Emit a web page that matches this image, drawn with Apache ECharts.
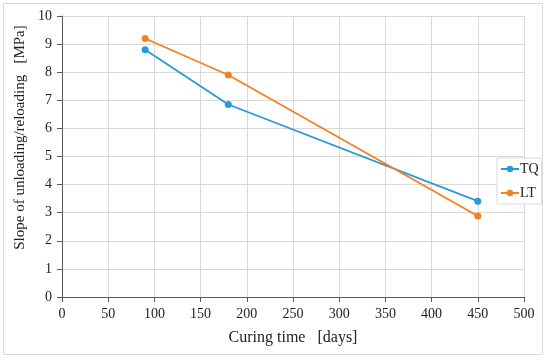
<!DOCTYPE html>
<html><head><meta charset="utf-8">
<script src="https://cdn.jsdelivr.net/npm/echarts@6/dist/echarts.min.js"></script>
<style>html,body{margin:0;padding:0;background:#fff}#c{width:550px;height:362px}</style>
</head><body><div id="c"></div>
<script>
const days = [90, 180, 450];
const tqValues = [8.8, 6.85, 3.41];
const ltValues = [9.2, 7.9, 2.88];
const seriesNames = ['TQ', 'LT'];
const xTitle = 'Curing time   [days]';
const yTitle = 'Slope of unloading/reloading   [MPa]';

const font = 'Liberation Serif, DejaVu Serif, serif';
const chart = echarts.init(document.getElementById('c'), null, {renderer: 'canvas'});
const mk = (vals) => days.map((d, i) => [d, vals[i]]);
chart.setOption({
  animation: false,
  textStyle: {fontFamily: font},
  graphic: [{type: 'rect', shape: {x: 3.5, y: 3.5, width: 539, height: 351}, style: {fill: 'none', stroke: '#d9d9d9', lineWidth: 1}, z: -1}],
  grid: {left: 62, right: 26, top: 16, bottom: 65},
  legend: {
    orient: 'vertical', left: 497, top: 158, itemWidth: 18, itemHeight: 8, itemGap: 10,
    backgroundColor: '#fff', borderColor: '#d9d9d9', borderWidth: 1, padding: [4, 3, 4, 3],
    textStyle: {fontFamily: font, fontSize: 14, color: '#222', padding: [0, 0, 0, -4]},
    data: seriesNames
  },
  xAxis: {
    type: 'value', min: 0, max: 500, interval: 50,
    name: xTitle, nameLocation: 'middle', nameGap: 33,
    nameTextStyle: {fontFamily: font, fontSize: 16, color: '#222'},
    axisLine: {show: true, lineStyle: {color: '#595959', width: 1}},
    axisTick: {show: true, length: 5, lineStyle: {color: '#595959'}},
    axisLabel: {fontFamily: font, fontSize: 14, color: '#222', margin: 10},
    splitLine: {show: true, lineStyle: {color: '#d9d9d9'}}
  },
  yAxis: {
    type: 'value', min: 0, max: 10, interval: 1,
    name: yTitle, nameLocation: 'middle', nameGap: 33,
    nameTextStyle: {fontFamily: font, fontSize: 15, color: '#222', padding: [0, 0, 0, 38]},
    axisLine: {show: true, lineStyle: {color: '#595959', width: 1}},
    axisTick: {show: true, length: 5, lineStyle: {color: '#595959'}},
    axisLabel: {fontFamily: font, fontSize: 14, color: '#222', margin: 10},
    splitLine: {show: true, lineStyle: {color: '#d9d9d9'}}
  },
  series: [
    {name: seriesNames[0], type: 'line', data: mk(tqValues), symbol: 'circle', symbolSize: 7,
     color: '#2a9ad6', lineStyle: {width: 1.8}},
    {name: seriesNames[1], type: 'line', data: mk(ltValues), symbol: 'circle', symbolSize: 7,
     color: '#f5801f', lineStyle: {width: 1.8}}
  ]
});
</script></body></html>
